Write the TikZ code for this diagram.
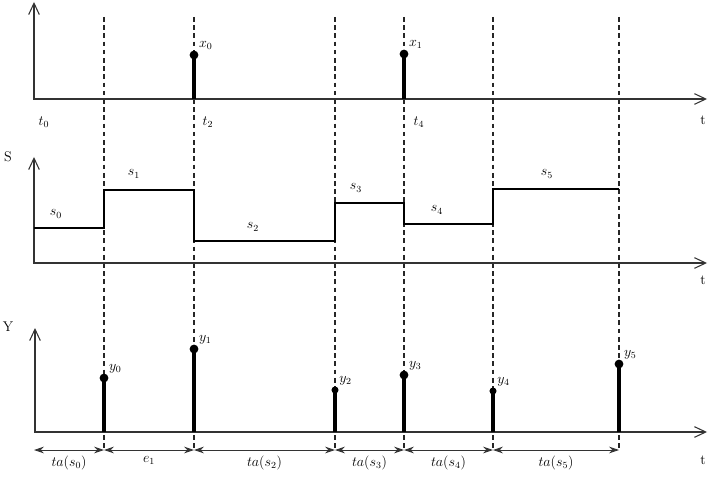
\documentclass[tikz,border=0pt]{standalone}
\usetikzlibrary{arrows.meta, calc}
\tikzset{
  every picture/.style={line width=0.8pt},
  axis/.style={{Straight Barb[length=3.4mm, width=3.2mm]}-{Straight Barb[length=3.4mm, width=3.2mm]}, line width=0.9pt, draw=black!80},
  guide/.style={line width=1pt, dash pattern=on 4pt off 3pt, draw=black!85},
  stem/.style={line width=2.8pt},
  level/.style={line width=1.1pt},
  dot/.style={circle, fill, inner sep=0pt, minimum size=#1},
  dot/.default=7.5pt,
  lbl/.style={font=\large, inner sep=1pt},
  span/.style={{Stealth[length=3mm, width=2mm]}-{Stealth[length=3mm, width=2mm]}, line width=0.7pt, draw=black!80},
}
\begin{document}
\begin{tikzpicture}[x=0.03cm, y=-0.03cm]
  \useasboundingbox (0,0) rectangle (711,488);
  % event instants: guide ends and interval marks
  \foreach \i/\x in {0/34, 1/104, 2/194, 3/335, 4/404, 5/493, 6/619} {
    \coordinate (g\i) at (\x,17);
    \coordinate (h\i) at (\x,450);
    \coordinate (d\i) at (\x,450);
  }
  \foreach \i in {1,...,6} \draw[guide] (g\i) -- (h\i);
  % three axes
  \foreach \n/\x/\top/\y in {X/34/2/99, S/34/157/263, Y/35/328/432} {
    \coordinate (o\n) at (\x,\y);
    \coordinate (v\n) at (\x,\top);
    \coordinate (e\n) at (707,\y);
    \draw[axis] (v\n) -- (o\n) -- (e\n);
  }
  \node[lbl] (lS) at (8,157) {S};
  \node[lbl] (lY) at (8,327) {Y};
  \foreach \n/\y in {X/120, S/280, Y/460} \node[lbl] (tt\n) at (703,\y) {t};
  \foreach \n/\x in {0/44, 2/208, 4/419} \node[lbl] (lt\n) at (\x,122) {$t_\n$};
  % inputs
  \foreach \n/\x/\h in {0/194/55, 1/404/54} {
    \node[dot] (x\n) at (\x,\h) {};
    \draw[stem] (x\n.center) -- (x\n |- oX);
    \node[lbl, anchor=south west] (lx\n) at (x\n.north east) {$x_\n$};
  }
  % states
  \draw[level] (oS |- 0,228) -- (104,228) -- (104,190) -- (194,190) -- (194,241)
    -- (335,241) -- (335,203) -- (404,203) -- (404,224) -- (493,224) -- (493,189) -- (619,189);
  \foreach \n/\x/\y in {0/56/214, 1/134/174, 2/253/227, 3/356/188, 4/437/210, 5/547/174}
    \node[lbl] (ls\n) at (\x,\y) {$s_\n$};
  % outputs
  \foreach \n/\x/\h/\r in {0/104/378/7.5pt, 1/194/349/7.5pt, 2/335/390/6pt, 3/404/375/7.5pt, 4/493/391/6pt, 5/619/364/7.5pt} {
    \node[dot=\r] (y\n) at (\x,\h) {};
    \draw[stem] (y\n.center) -- (y\n |- oY);
    \node[lbl, anchor=south west] (ly\n) at (y\n.north east) {$y_\n$};
  }
  % time advances
  \foreach \a/\b/\t in {0/1/{ta(s_0)}, 1/2/{e_1}, 2/3/{ta(s_2)}, 3/4/{ta(s_3)}, 4/5/{ta(s_4)}, 5/6/{ta(s_5)}}
    \draw[span] (d\a) -- node[lbl, below=4pt] (ta\a) {$\t$} (d\b);
\end{tikzpicture}
\end{document}
